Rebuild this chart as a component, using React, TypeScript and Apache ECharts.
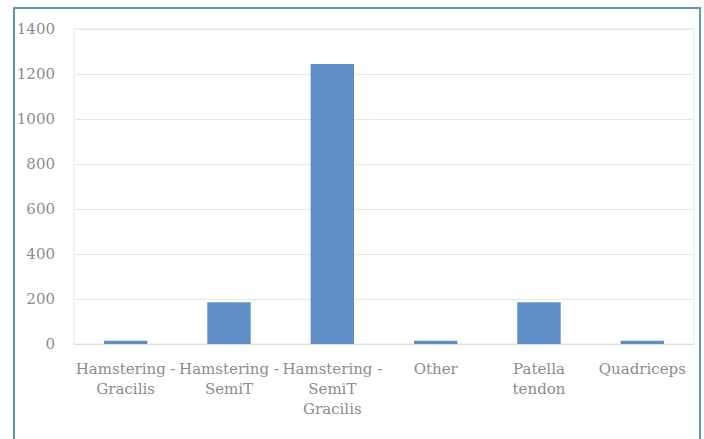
import React, { useEffect, useRef } from "react";
import * as echarts from "echarts";

const categories = [
  "Hamstering -\nGracilis",
  "Hamstering -\nSemiT",
  "Hamstering -\nSemiT\nGracilis",
  "Other",
  "Patella\ntendon",
  "Quadriceps",
];
const values = [15, 186, 1245, 15, 186, 15];
const yTicks = { min: 0, max: 1400, interval: 200 };

export default function App() {
  const ref = useRef<HTMLDivElement>(null);
  useEffect(() => {
    if (!ref.current) return;
    const chart = echarts.init(ref.current, null, { renderer: "svg" });
    const font = "'DejaVu Serif', serif";
    chart.setOption({
      animation: false,
      backgroundColor: "#ffffff",
      graphic: [
        {
          type: "rect",
          shape: { x: 14, y: 8, width: 686, height: 445 },
          style: { fill: "none", stroke: "#5f98a5", lineWidth: 2 },
          silent: true,
        },
      ],
      grid: {
        left: 74,
        right: 10,
        top: 29,
        bottom: 95,
        show: true,
        borderColor: "#e6e6e6",
        borderWidth: 1,
      },
      xAxis: {
        type: "category",
        data: categories,
        axisLine: { show: true, lineStyle: { color: "#dedede" } },
        axisTick: { show: false },
        axisLabel: {
          interval: 0,
          color: "#8c8c8c",
          fontFamily: font,
          fontSize: 15,
          lineHeight: 20,
          margin: 15,
        },
      },
      yAxis: {
        type: "value",
        min: yTicks.min,
        max: yTicks.max,
        interval: yTicks.interval,
        axisLine: { show: false },
        axisTick: { show: false },
        splitLine: { lineStyle: { color: "#e8e8e8" } },
        axisLabel: {
          color: "#8c8c8c",
          fontFamily: font,
          fontSize: 15,
          margin: 19,
          formatter: (v: number) => String(v),
        },
      },
      series: [
        {
          type: "bar",
          data: values,
          barWidth: "42%",
          itemStyle: { color: "#5f8fc6" },
        },
      ],
    });
    return () => chart.dispose();
  }, []);
  return (
    <div
      ref={ref}
      style={{ position: "fixed", left: 0, top: 0, width: 704, height: 439 }}
    />
  );
}
